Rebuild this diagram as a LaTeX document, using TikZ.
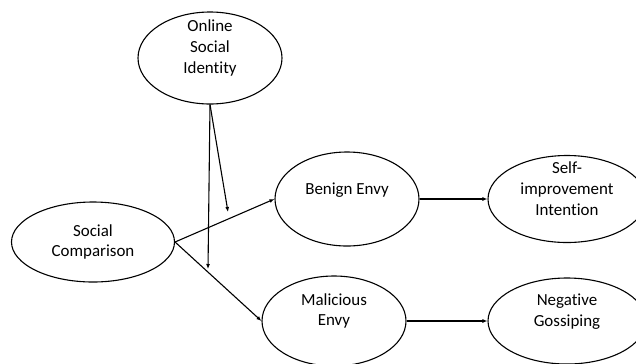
\documentclass[tikz,border=0pt]{standalone}
\usepackage{fontspec}
\setmainfont{Carlito}[Ligatures=NoCommon]
\usetikzlibrary{arrows.meta,shapes.geometric}
\begin{document}
\begin{tikzpicture}[x=1bp,y=-1bp,
  ell/.style={draw,ellipse,line width=1.1bp,inner sep=0pt},
  lbl/.style={align=center,font=\fontsize{17}{21}\selectfont,text=black,inner sep=0pt},
  arr/.style={line width=1.1bp,-{Latex[length=5bp,width=4bp]}}]
\useasboundingbox (0,0) rectangle (636,363);
% ellipses
\node[ell,minimum width=144bp,minimum height=92bp] (osi) at (210,58) {};
\node[ell,minimum width=163bp,minimum height=80bp] (sc) at (93,242) {};
\node[ell,minimum width=144bp,minimum height=94bp] (be) at (347,199) {};
\node[ell,minimum width=158bp,minimum height=87bp] (si) at (567,199) {};
\node[ell,minimum width=144bp,minimum height=90bp] (me) at (334,321) {};
\node[ell,minimum width=158bp,minimum height=86bp] (ng) at (567,321) {};
% labels
\node[lbl] (tosi) at (210,48) {Online\\Social\\Identity};
\node[lbl] (tsc) at (93,242) {Social\\Comparison};
\node[lbl] (tbe) at (347,190) {Benign Envy};
\node[lbl] (tsi) at (567,189) {Self-\\improvement\\Intention};
\node[lbl] (tme) at (334,311) {Malicious\\Envy};
\node[lbl] (tng) at (567,312) {Negative\\Gossiping};
% moderator end points
\coordinate (m1) at (228,212);
\coordinate (m2) at (208,269);
% connectors
\draw[arr] (sc.east) -- (be.west);
\draw[arr] (sc.east) -- (me.west);
\draw[arr] (be.east) -- (si.west);
\draw[arr] (me.east) -- (ng.west);
\draw[arr] (osi.south) -- (m1);
\draw[arr] (osi.south) -- (m2);
\end{tikzpicture}
\end{document}
